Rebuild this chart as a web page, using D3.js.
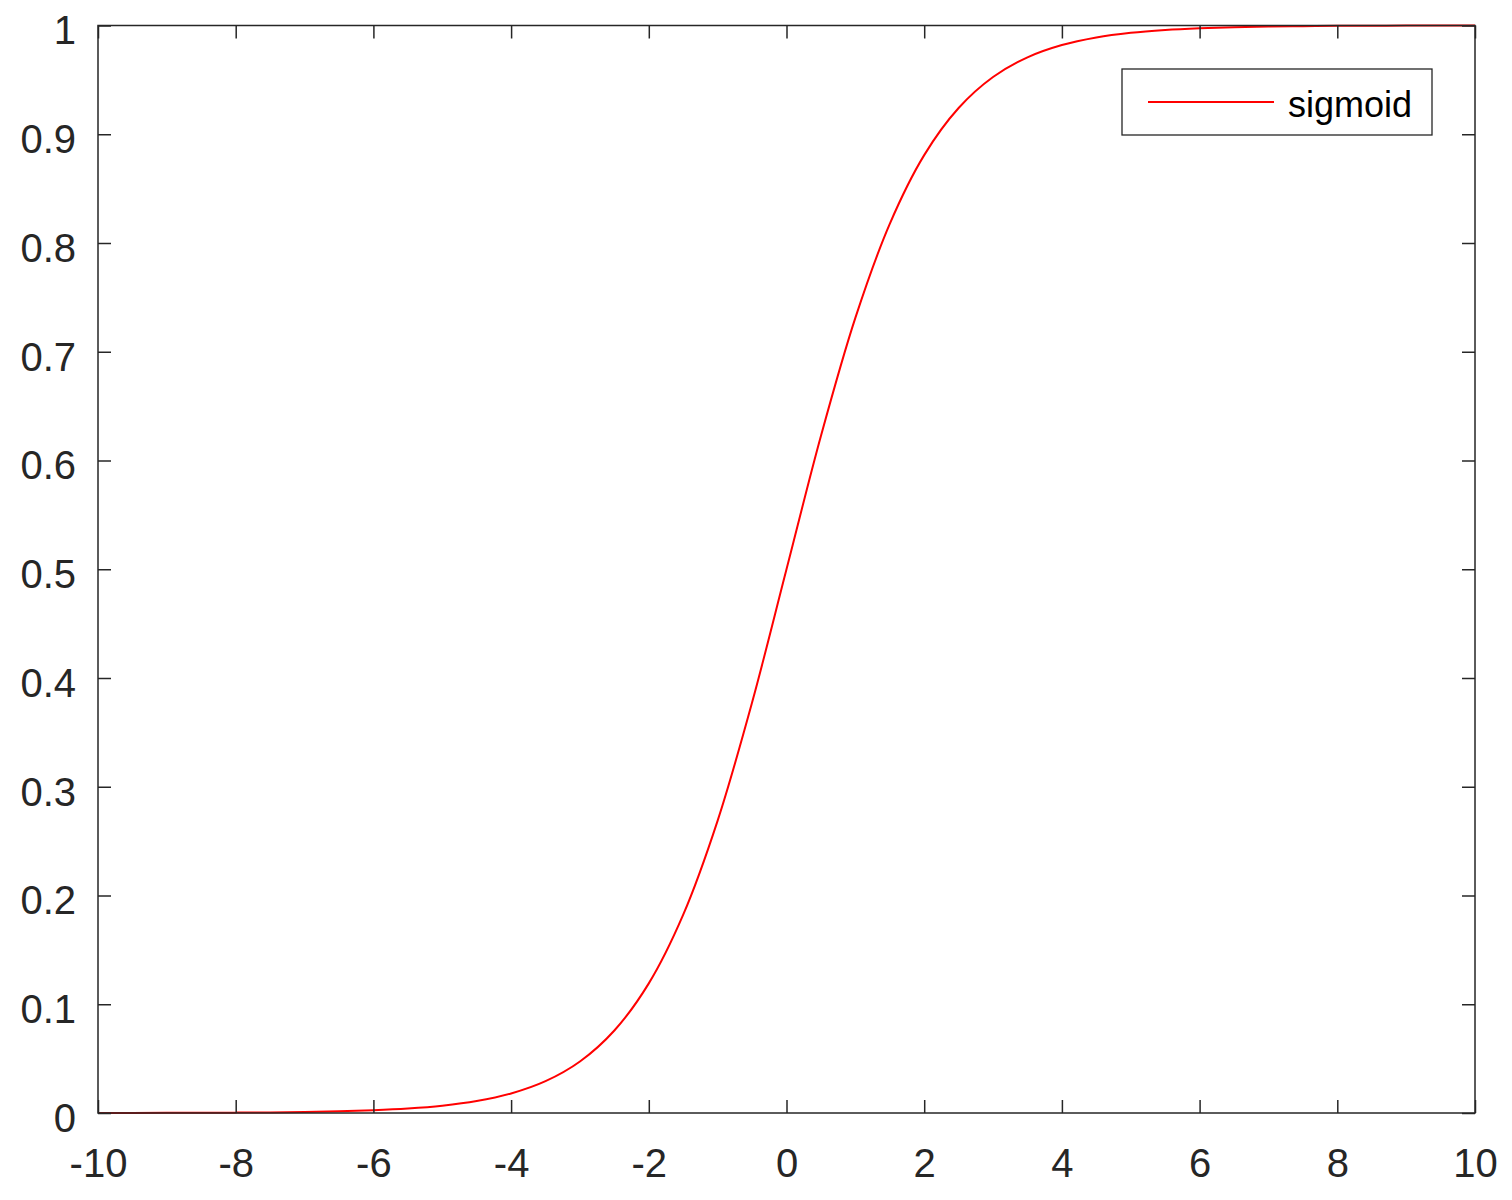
<!DOCTYPE html>
<html>
<head>
<meta charset="utf-8">
<script src="https://cdn.jsdelivr.net/npm/d3@7"></script>
<style>
  html, body { margin: 0; padding: 0; background: #fff; }
  svg { display: block; }
</style>
</head>
<body>
<svg id="chart" width="1512" height="1200"></svg>
<script>
// Values
const xValues = [-10, -9.5, -9, -8.5, -8, -7.5, -7, -6.5, -6, -5.5, -5, -4.5, -4, -3.5, -3, -2.5, -2, -1.5, -1, -0.5,
                 0, 0.5, 1, 1.5, 2, 2.5, 3, 3.5, 4, 4.5, 5, 5.5, 6, 6.5, 7, 7.5, 8, 8.5, 9, 9.5, 10];
const sigmoidValues = [0.00005, 0.00007, 0.00012, 0.0002, 0.00034, 0.00055, 0.0009, 0.0015, 0.0025, 0.0041, 0.0067, 0.011, 0.018, 0.0293, 0.0474, 0.0759, 0.1192, 0.1824, 0.2689, 0.3775,
                       0.5, 0.6225, 0.7311, 0.8176, 0.8808, 0.9241, 0.9526, 0.9707, 0.982, 0.989, 0.9933, 0.9959, 0.9975, 0.9985, 0.9991, 0.9994, 0.9997, 0.9998, 0.9999, 0.9999, 1.0];
const xTicks = [-10, -8, -6, -4, -2, 0, 2, 4, 6, 8, 10];
const yTicks = [0, 0.1, 0.2, 0.3, 0.4, 0.5, 0.6, 0.7, 0.8, 0.9, 1];
const seriesName = "sigmoid";

const svg = d3.select("#chart");
const pLeft = 98, pRight = 1475, pTop = 25.5, pBottom = 1113;
const axisColor = "#262626";
const font = "'Liberation Sans', Arial, Helvetica, sans-serif";

const x = d3.scaleLinear().domain([-10, 10]).range([pLeft, pRight]);
const y = d3.scaleLinear().domain([0, 1]).range([pBottom, pTop]);

svg.append("rect").attr("width", 1512).attr("height", 1200).attr("fill", "#fff");

// curve
const data = xValues.map((v, i) => ({ x: v, y: sigmoidValues[i] }));
svg.append("path")
  .datum(data)
  .attr("fill", "none")
  .attr("stroke", "#ff0000")
  .attr("stroke-width", 2)
  .attr("d", d3.line().x(d => x(d.x)).y(d => y(d.y)).curve(d3.curveCatmullRom.alpha(0.5)));

function styleAxis(g, showLabels) {
  g.select(".domain").remove();
  g.selectAll(".tick line").attr("stroke", axisColor).attr("stroke-width", 1.5);
  g.selectAll(".tick text")
    .attr("fill", axisColor)
    .style("font-family", font)
    .style("font-size", "40px");
  if (!showLabels) g.selectAll(".tick text").remove();
}

const fmt = d => String(d);

svg.append("g").attr("transform", `translate(0,${pBottom})`)
  .call(d3.axisBottom(x).tickValues(xTicks).tickFormat(fmt).tickSizeInner(-13).tickSizeOuter(0).tickPadding(35.5))
  .call(g => styleAxis(g, true));

svg.append("g").attr("transform", `translate(0,${pTop})`)
  .call(d3.axisTop(x).tickValues(xTicks).tickSizeInner(-13).tickSizeOuter(0))
  .call(g => styleAxis(g, false));

svg.append("g").attr("transform", `translate(${pLeft},0)`)
  .call(d3.axisLeft(y).tickValues(yTicks).tickFormat(fmt).tickSizeInner(-13).tickSizeOuter(0).tickPadding(22))
  .call(g => styleAxis(g, true))
  .call(g => g.selectAll(".tick text").attr("dy", "0.46em"));

svg.append("g").attr("transform", `translate(${pRight},0)`)
  .call(d3.axisRight(y).tickValues(yTicks).tickSizeInner(-13).tickSizeOuter(0))
  .call(g => styleAxis(g, false));

// frame
svg.append("rect")
  .attr("x", pLeft).attr("y", pTop)
  .attr("width", pRight - pLeft).attr("height", pBottom - pTop)
  .attr("fill", "none").attr("stroke", axisColor).attr("stroke-width", 1.5);

// legend
const lg = svg.append("g");
lg.append("rect").attr("x", 1122).attr("y", 69).attr("width", 310).attr("height", 66)
  .attr("fill", "#fff").attr("stroke", axisColor).attr("stroke-width", 1.3);
lg.append("line").attr("x1", 1148).attr("x2", 1274).attr("y1", 102).attr("y2", 102)
  .attr("stroke", "#ff0000").attr("stroke-width", 2);
lg.append("text").attr("x", 1288).attr("y", 117).text(seriesName)
  .attr("fill", "#000").style("font-family", font).style("font-size", "36px");
</script>
</body>
</html>
